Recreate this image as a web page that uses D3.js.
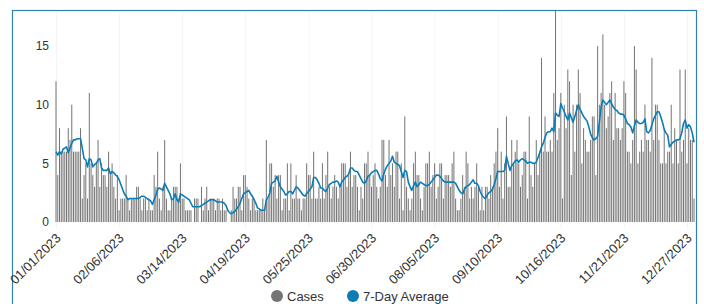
<!DOCTYPE html>
<html><head><meta charset="utf-8">
<script src="https://cdn.jsdelivr.net/npm/d3@7"></script>
<style>body{margin:0;background:#fff}svg{display:block;font-family:"Liberation Sans",Arial,sans-serif}</style>
</head><body><svg id="c" width="704" height="304"></svg>
<script>
// Daily cases, 2023 (one value per day)
const casesJan=[12,4,8,6,6,6,6,8,7,10,6,6,6,6,8,2,4,5,2,11,5,4,3,5,7,3,5,4,4,3,6];
const casesFeb=[4,5,3,2,4,1,2,2,2,4,2,1,2,2,2,3,3,2,1,2,2,1,2,1,1,4,3,6];
const casesMar=[2,1,3,7,2,1,1,2,3,3,3,2,5,2,2,1,1,1,1,0,2,2,2,0,3,1,2,3,1,2,2];
const casesApr=[2,1,2,2,1,2,1,1,0,0,1,3,2,2,3,3,1,4,4,3,2,1,2,2,1,1,1,1,2,1];
const casesMay=[7,2,5,5,3,4,2,4,4,1,2,2,5,1,5,2,2,4,2,2,1,2,2,5,4,4,2,6,2,2,3];
const casesJun=[2,5,2,4,6,3,2,3,4,3,2,3,5,5,5,3,4,6,3,4,4,3,1,3,2,5,5,6,4,3];
const casesJul=[4,5,3,2,3,7,7,4,3,7,4,5,3,6,6,2,5,1,9,3,2,1,2,5,6,4,4,2,1,3,5];
const casesAug=[5,6,3,4,5,2,3,5,5,2,4,4,4,3,5,6,2,1,1,2,4,3,6,5,2,3,2,3,5,3,1];
const casesSep=[3,1,3,3,2,4,3,5,6,8,3,6,2,5,9,3,3,7,5,6,7,5,3,4,6,6,2,9,4,3];
const casesOct=[5,7,4,6,14,6,9,6,6,7,6,11,18,7,8,11,2,10,8,13,12,4,10,6,10,13,11,5,8,7,6];
const casesNov=[6,7,9,9,4,15,10,11,16,10,8,9,11,12,7,11,8,8,7,8,12,11,6,6,5,7,15,13,5,6];
const casesDec=[7,6,10,7,7,6,14,7,10,10,7,5,5,8,5,6,6,10,5,8,7,5,13,6,7,13,5,8,7,7,2];

// 7-day average
const avgJan=[6.0,5.7,6.0,5.8,6.2,6.3,6.4,5.9,6.3,6.7,7.0,7.0,7.1,7.1,7.1,6.3,5.4,5.3,4.7,5.4,5.3,4.7,4.9,5.0,5.3,5.4,4.6,4.4,4.4,4.4,4.6];
const avgFeb=[4.1,4.3,4.2,4.0,3.9,3.6,3.2,2.8,2.4,2.2,1.9,2.0,2.0,2.0,2.0,2.0,2.0,2.1,2.2,2.2,2.1,2.0,1.9,1.8,1.5,1.9,2.3,2.8];
const avgMar=[2.9,2.8,2.7,3.3,3.0,2.7,2.4,1.9,2.0,2.4,1.9,1.7,2.4,2.3,2.2,2.1,2.0,1.9,1.6,1.3,1.3,1.3,1.3,1.3,1.4,1.5,1.6,1.7,1.8,1.9,1.9];
const avgApr=[1.9,1.8,1.7,1.7,1.7,1.7,1.6,1.4,1.0,0.8,0.7,0.8,0.9,1.1,1.3,1.6,2.0,2.4,2.5,2.6,2.7,2.4,2.2,1.9,1.6,1.2,1.1,1.0,1.0,1.0];
const avgMay=[1.9,2.1,2.5,3.3,3.4,3.5,3.9,3.4,3.0,2.8,2.6,2.3,2.4,2.6,2.6,2.4,2.7,3.0,2.9,2.7,2.5,2.3,2.2,2.4,2.6,2.8,3.0,3.8,3.8,3.6,3.3];
const avgJun=[2.9,2.9,2.7,2.6,2.9,3.2,3.3,3.4,3.4,3.5,3.4,3.0,3.4,3.6,3.8,3.9,4.1,4.6,4.6,4.4,4.3,4.3,4.0,3.7,3.4,3.3,3.5,3.9,4.0,4.2];
const avgJul=[4.3,4.4,4.4,4.1,3.7,3.5,4.1,4.5,4.8,5.0,5.2,5.6,5.1,5.0,4.9,4.8,4.3,3.8,4.4,4.3,3.4,3.0,2.7,3.1,3.4,3.0,3.2,3.4,3.3,3.2,3.1];
const avgAug=[3.1,3.2,3.4,3.6,3.8,4.0,4.0,3.9,3.7,3.5,3.4,3.4,3.4,3.4,3.4,3.4,3.3,3.0,2.7,2.5,2.4,2.8,3.0,3.1,3.2,3.4,3.6,3.3,3.3,3.1,2.6];
const avgSep=[2.3,2.1,2.0,2.3,2.5,2.6,2.8,3.2,3.7,4.3,4.3,4.3,4.3,4.4,5.6,5.0,4.4,4.8,5.0,5.2,5.3,5.1,5.3,5.4,5.3,5.2,5.0,5.1,5.1,5.0];
const avgOct=[5.0,5.1,5.5,5.9,6.4,6.7,7.2,7.6,7.7,7.7,8.0,7.7,9.3,9.1,9.0,10.1,9.7,9.4,9.0,8.7,9.3,8.9,8.5,9.0,9.5,10.0,9.6,9.3,9.0,8.8,8.6];
const avgNov=[8.1,7.5,7.2,7.0,7.1,7.3,8.5,9.8,10.4,10.2,10.0,10.2,10.4,10.1,9.8,9.6,9.5,9.3,9.2,9.2,9.1,8.8,8.4,8.3,8.1,7.6,8.2,8.7,8.5,8.4];
const avgDec=[8.4,8.5,8.8,7.7,7.6,7.8,8.3,8.8,9.1,9.4,9.4,9.0,8.5,7.9,7.6,7.4,6.4,6.6,6.8,6.9,7.0,7.0,7.1,7.6,8.4,8.7,8.0,8.3,8.1,7.6,6.8];

const tickLabels=["01/01/2023","02/06/2023","03/14/2023","04/19/2023","05/25/2023","06/30/2023","08/05/2023","09/10/2023","10/16/2023","11/21/2023","12/27/2023"];
const yTicks=[0,5,10,15];
const seriesNames=["Cases","7-Day Average"];
const startDate="01/01/2023";

const cases=[].concat(casesJan,casesFeb,casesMar,casesApr,casesMay,casesJun,casesJul,casesAug,casesSep,casesOct,casesNov,casesDec);
const avg=[].concat(avgJan,avgFeb,avgMar,avgApr,avgMay,avgJun,avgJul,avgAug,avgSep,avgOct,avgNov,avgDec);

const parse=d3.utcParse("%m/%d/%Y"), fmt=d3.utcFormat("%m/%d/%Y");
const t0=parse(startDate);
const rows=cases.map((v,i)=>({date:d3.utcDay.offset(t0,i),cases:v,avg:avg[i]}));
const tickDates=tickLabels.map(parse);

const COL_BAR="#747474", COL_LINE="#0b7db4", COL_BORDER="#2d82b0";
const svg=d3.select("#c");
const x=d3.scaleUtc().domain([tickDates[0],tickDates[tickDates.length-1]]).range([56,687]);
const y=d3.scaleLinear().domain([0,18]).range([222,10.9]);

// frame
svg.append("rect").attr("x",12.5).attr("y",10.5).attr("width",684).attr("height",300)
  .attr("fill","none").attr("stroke",COL_BORDER).attr("stroke-width",1.2);

// x axis with grid
const gx=svg.append("g").attr("transform","translate(0,222)")
  .call(d3.axisBottom(x).tickValues(tickDates).tickFormat(fmt).tickSizeInner(-211).tickSizeOuter(0).tickPadding(0));
gx.select(".domain").remove();
gx.selectAll(".tick line").attr("stroke","#f3f3f3").attr("y2",-211).attr("y1",6);
gx.selectAll(".tick text").attr("font-size",13).attr("fill","#333").attr("font-family","Liberation Sans, Arial, sans-serif")
  .attr("text-anchor","end").attr("dy",null).attr("y",0)
  .attr("transform","translate(5,17) rotate(-45)");

// y axis
const gy=svg.append("g").attr("transform","translate(56,0)")
  .call(d3.axisLeft(y).tickValues(yTicks).tickSize(0).tickPadding(7));
gy.select(".domain").remove();
gy.selectAll(".tick text").attr("font-size",12).attr("fill","#333").attr("font-family","Liberation Sans, Arial, sans-serif");

// bars
svg.append("g").selectAll("rect").data(rows).join("rect")
  .attr("x",d=>x(d.date)-0.5).attr("width",1)
  .attr("y",d=>y(d.cases)).attr("height",d=>y(0)-y(d.cases))
  .attr("fill",COL_BAR);

// line
svg.append("path").datum(rows)
  .attr("d",d3.line().x(d=>x(d.date)).y(d=>y(d.avg)))
  .attr("fill","none").attr("stroke",COL_LINE).attr("stroke-width",1.6).attr("stroke-linejoin","round");

// legend
const lg=svg.append("g");
const items=[{name:seriesNames[0],c:COL_BAR,cx:277},{name:seriesNames[1],c:COL_LINE,cx:353}];
items.forEach(it=>{
  lg.append("circle").attr("cx",it.cx).attr("cy",296).attr("r",6).attr("fill",it.c);
  lg.append("text").attr("x",it.cx+10).attr("y",300.5).attr("font-size",13).attr("fill","#333").text(it.name);
});
</script></body></html>
